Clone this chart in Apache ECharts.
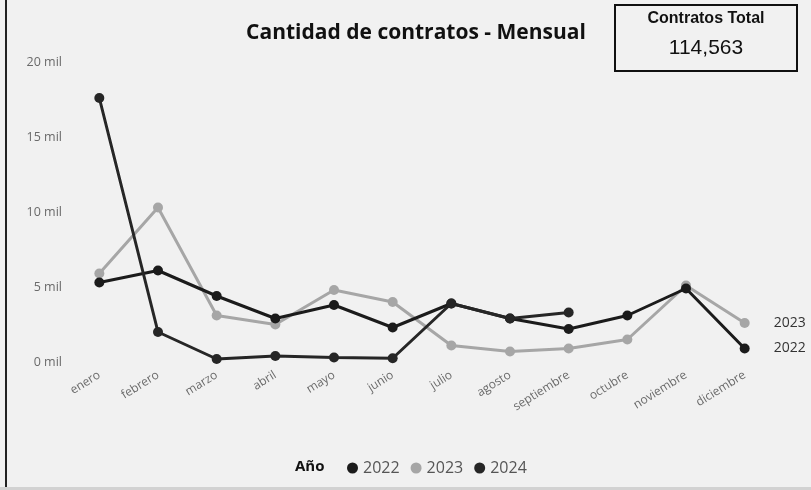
<!DOCTYPE html>
<html><head><meta charset="utf-8">
<script src="https://cdn.jsdelivr.net/npm/echarts@6/dist/echarts.min.js"></script>
<style>html,body{margin:0;padding:0;background:#f1f1f1}#c{width:811px;height:490px}</style>
</head><body><div id="c"></div>
<script>
const months = ['enero','febrero','marzo','abril','mayo','junio','julio','agosto','septiembre','octubre','noviembre','diciembre'];
const years = ['2022','2023','2024'];
const v2022 = [5300, 6100, 4400, 2900, 3800, 2300, 3900, 2900, 2200, 3100, 4900, 900];
const v2023 = [5900, 10300, 3100, 2500, 4800, 4000, 1100, 700, 900, 1500, 5100, 2600];
const v2024 = [17600, 2000, 200, 400, 300, 250, 3900, 2900, 3300];
const yTicks = [0, 5000, 10000, 15000, 20000];
const titleText = 'Cantidad de contratos - Mensual';
const cardTitle = 'Contratos Total';
const cardValue = '114,563';

const F = '"Open Sans", "Noto Sans", sans-serif';
const FA = '"Liberation Sans", Arial, sans-serif';
const colors = {'2022':'#1b1b1b','2023':'#a6a6a6','2024':'#262626'};
const chart = echarts.init(document.getElementById('c'), null, {renderer:'canvas'});

function mk(name, data, endLabel){
  return {
    name, type:'line', data, symbol:'circle', symbolSize:10,
    z: name==='2023'?2:3,
    lineStyle:{width:3,color:colors[name]},
    itemStyle:{color:colors[name]},
    endLabel:{show:endLabel, formatter:name, distance:29, color:'#333', fontSize:14, fontFamily:F},
    emphasis:{disabled:true}
  };
}

chart.setOption({
  backgroundColor:'#f1f1f1',
  animation:false,
  textStyle:{fontFamily:F},
  grid:{left:70, right:37, top:62, bottom:128, containLabel:false},
  xAxis:{
    type:'category', data:months, boundaryGap:true,
    axisLine:{show:false}, axisTick:{show:false},
    axisLabel:{rotate:32, color:'#6a6a6a', fontSize:12, fontFamily:F, margin:12}
  },
  yAxis:{
    type:'value', min:yTicks[0], max:yTicks[yTicks.length-1], interval:yTicks[1]-yTicks[0],
    axisLine:{show:false}, axisTick:{show:false}, splitLine:{show:false},
    axisLabel:{color:'#6a6a6a', fontSize:12.5, fontFamily:F, margin:8, formatter:v=>(v/1000)+' mil'}
  },
  legend:{
    data:years, left:342, top:455, icon:'circle', itemWidth:11, itemHeight:11, itemGap:11,
    textStyle:{color:'#555', fontSize:16, fontFamily:F}
  },
  series:[mk('2022',v2022,true), mk('2023',v2023,true), mk('2024',v2024,false)],
  graphic:[
    {type:'rect', shape:{x:5,y:0,width:2,height:490}, style:{fill:'#222'}},
    {type:'rect', shape:{x:0,y:487,width:811,height:3}, style:{fill:'#d2d2d2'}},
    {type:'text', style:{text:titleText, x:416, y:33, align:'center', verticalAlign:'middle', font:'bold 21px '+F, fill:'#111'}},
    {type:'rect', shape:{x:615,y:5,width:182,height:66}, style:{fill:'none', stroke:'#111', lineWidth:2}},
    {type:'text', style:{text:cardTitle, x:706, y:19, align:'center', verticalAlign:'middle', font:'bold 16px '+FA, fill:'#111'}},
    {type:'text', style:{text:cardValue, x:706, y:48, align:'center', verticalAlign:'middle', font:'21px '+FA, fill:'#111'}},
    {type:'text', style:{text:'Año', x:295, y:467, verticalAlign:'middle', font:'bold 15px '+F, fill:'#111'}}
  ]
});
</script></body></html>
